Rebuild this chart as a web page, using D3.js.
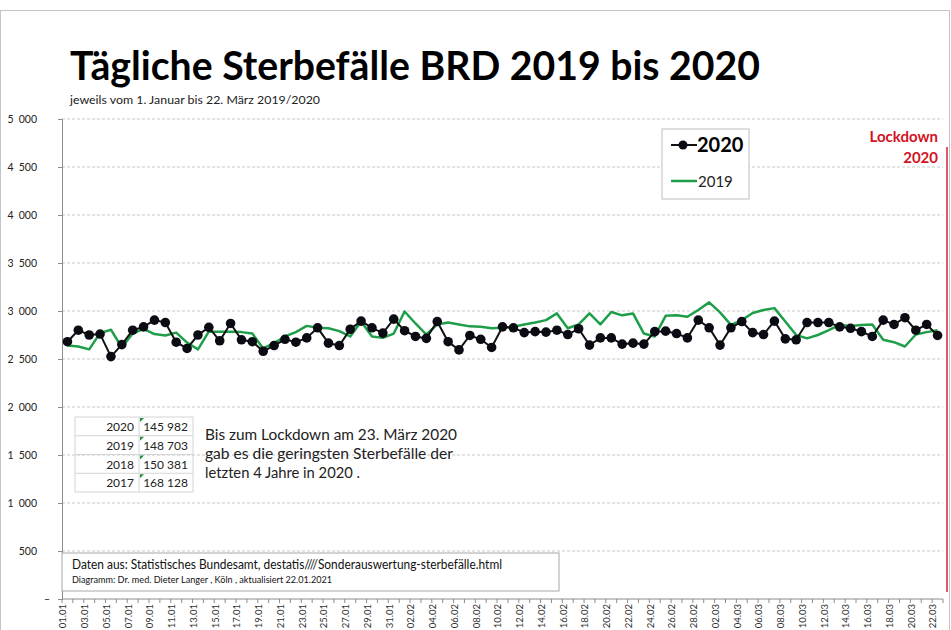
<!DOCTYPE html>
<html>
<head>
<meta charset="utf-8">
<script src="https://cdnjs.cloudflare.com/ajax/libs/d3/7.8.5/d3.min.js"></script>
<style>
  body { margin: 0; background: #fff; }
  svg { display: block; font-family: Lato, "Open Sans", sans-serif; }
</style>
</head>
<body>
<svg id="chart" width="951" height="630"></svg>
<script>
// categories: 1 Jan .. 22 Mar
var days = ["01.01","02.01","03.01","04.01","05.01","06.01","07.01","08.01","09.01","10.01",
  "11.01","12.01","13.01","14.01","15.01","16.01","17.01","18.01","19.01","20.01",
  "21.01","22.01","23.01","24.01","25.01","26.01","27.01","28.01","29.01","30.01","31.01",
  "01.02","02.02","03.02","04.02","05.02","06.02","07.02","08.02","09.02","10.02",
  "11.02","12.02","13.02","14.02","15.02","16.02","17.02","18.02","19.02","20.02",
  "21.02","22.02","23.02","24.02","25.02","26.02","27.02","28.02",
  "01.03","02.03","03.03","04.03","05.03","06.03","07.03","08.03","09.03","10.03",
  "11.03","12.03","13.03","14.03","15.03","16.03","17.03","18.03","19.03","20.03","21.03","22.03"]
// day labels shown under the axis (every 2nd)
var dayLabels = ["01.01","03.01","05.01","07.01","09.01","11.01","13.01","15.01","17.01","19.01",
  "21.01","23.01","25.01","27.01","29.01","31.01","02.02","04.02","06.02","08.02","10.02",
  "12.02","14.02","16.02","18.02","20.02","22.02","24.02","26.02","28.02","02.03","04.03",
  "06.03","08.03","10.03","12.03","14.03","16.03","18.03","20.03","22.03"]

var deaths2020 = [2680,2800,2750,2760,2525,2650,2800,2835,2905,2880,
  2675,2610,2750,2830,2690,2870,2700,2680,2580,2640,
  2705,2675,2720,2825,2665,2640,2810,2895,2825,2770,2915,
  2795,2735,2715,2890,2680,2595,2745,2705,2620,2835,
  2825,2775,2785,2780,2800,2755,2815,2645,2720,2720,
  2655,2665,2655,2785,2790,2765,2720,2905,
  2825,2645,2825,2890,2775,2755,2895,2710,2700,2880,
  2880,2880,2835,2820,2785,2735,2905,2860,2930,2800,2860,2745]

var deaths2019 = [2640,2630,2600,2770,2805,2620,2765,2815,2760,2745,
  2775,2670,2600,2785,2785,2785,2780,2765,2610,2665,
  2735,2780,2845,2825,2820,2790,2735,2890,2735,2720,2765,
  2995,2870,2755,2860,2880,2860,2840,2835,2820,2825,
  2835,2860,2880,2905,2975,2820,2860,2975,2860,2990,
  2955,2975,2765,2735,2950,2955,2940,3010,
  3090,2985,2855,2905,2980,3010,3030,2890,2750,2715,
  2750,2800,2855,2845,2855,2860,2700,2675,2630,2755,2780,2800]

var yTicks = [0,500,1000,1500,2000,2500,3000,3500,4000,4500,5000]

var tableYears = ["2020","2019","2018","2017"]
var tableTotals = ["145 982","148 703","150 381","168 128"]

var noteLines = ["Bis zum Lockdown am 23. März 2020",
  "gab es die geringsten Sterbefälle der",
  "letzten 4 Jahre in 2020 ."]

var svg = d3.select('#chart')

// frame
svg.append('rect')
  .attr('x', 0.5).attr('y', 10.5).attr('width', 949).attr('height', 640)
  .style('fill', 'none').style('stroke', '#c4c4c4')

svg.append('text')
  .attr('x', 70).attr('y', 80)
  .attr('textLength', 690).attr('lengthAdjust', 'spacingAndGlyphs')
  .style('font-size', '40px').style('font-weight', 'bold').style('fill', '#000')
  .text('Tägliche Sterbefälle BRD 2019 bis 2020')

svg.append('text')
  .attr('x', 70).attr('y', 104)
  .attr('textLength', 250).attr('lengthAdjust', 'spacingAndGlyphs')
  .style('font-size', '10.5px').style('fill', '#222')
  .text('jeweils vom 1. Januar bis 22. März 2019/2020')

var x = d3.scaleBand().domain(days).range([62, 943])
var y = d3.scaleLinear().domain([0, 5000]).range([599, 119])
var bw = x.bandwidth()
var fmt = function(d){ return d === 0 ? '–' : d3.format(',')(d).replace(',', '\u2002') }

// gridlines
svg.append('g').selectAll('line')
  .data(yTicks.filter(function(d){ return d > 0 }))
  .enter().append('line')
  .attr('x1', 62).attr('x2', 943)
  .attr('y1', function(d){ return y(d) }).attr('y2', function(d){ return y(d) })
  .style('stroke', '#c8c8c8').style('stroke-dasharray', '3,2')

// y axis
var ya = svg.append('g')
  .attr('transform', 'translate(62,0)')
  .call(d3.axisLeft(y).tickValues(yTicks).tickSize(4).tickPadding(21).tickFormat(fmt))
ya.select('.domain').style('stroke', '#8c8c8c')
ya.selectAll('.tick line').style('stroke', '#8c8c8c')
ya.selectAll('.tick text').style('font-size', '10.5px').style('fill', '#222')
  .style('font-family', 'Lato, sans-serif')
ya.selectAll('.tick text').filter(function(d){ return d === 0 }).attr('x', -12)

// x axis
var xa = svg.append('g')
xa.append('line')
  .attr('x1', 62).attr('x2', 943).attr('y1', y(0)).attr('y2', y(0))
  .style('stroke', '#8c8c8c')
xa.selectAll('.xt')
  .data(days.concat(['end']))
  .enter().append('line')
  .attr('class', 'xt')
  .attr('x1', function(d){ return d === 'end' ? 943 : x(d) })
  .attr('x2', function(d){ return d === 'end' ? 943 : x(d) })
  .attr('y1', y(0)).attr('y2', y(0) + 4)
  .style('stroke', '#8c8c8c')
xa.selectAll('.xl')
  .data(dayLabels)
  .enter().append('text')
  .attr('class', 'xl')
  .attr('transform', function(d){ return 'translate(' + (x(d) + 1) + ',' + (y(0) + 5) + ') rotate(-90)' })
  .attr('dy', '0.35em')
  .style('text-anchor', 'end').style('font-size', '9.5px').style('fill', '#333')
  .text(function(d){ return d })

// lockdown marker
svg.append('line')
  .attr('x1', 947).attr('x2', 947).attr('y1', 147).attr('y2', 592)
  .style('stroke', '#e35a66').style('stroke-width', 2)
svg.append('text').attr('x', 938).attr('y', 142)
  .style('text-anchor', 'end').style('font-size', '15px').style('font-weight', 'bold').style('fill', '#d3121f')
  .text('Lockdown')
svg.append('text').attr('x', 938).attr('y', 163)
  .style('text-anchor', 'end').style('font-size', '15px').style('font-weight', 'bold').style('fill', '#d3121f')
  .text('2020')

// series
var line2019 = d3.line()
  .x(function(d, i){ return x(days[i]) + bw / 2 })
  .y(function(d){ return y(d) })
svg.append('path')
  .attr('d', line2019(deaths2019))
  .style('fill', 'none').style('stroke', '#1f9e4a').style('stroke-width', 2.5)
  .style('stroke-linejoin', 'round')

svg.append('path')
  .attr('d', line2019(deaths2020))
  .style('fill', 'none').style('stroke', '#111').style('stroke-width', 2)
svg.selectAll('.dot')
  .data(deaths2020)
  .enter().append('circle')
  .attr('class', 'dot')
  .attr('r', 4.8)
  .attr('cx', function(d, i){ return x(days[i]) + bw / 2 })
  .attr('cy', function(d){ return y(d) })
  .style('fill', '#0b0b14')

// legend
var lg = svg.append('g')
lg.append('rect').attr('x', 662).attr('y', 129).attr('width', 87).attr('height', 70)
  .style('fill', '#fff').style('stroke', '#bdbdbd')
lg.append('line').attr('x1', 671).attr('x2', 697).attr('y1', 145).attr('y2', 145)
  .style('stroke', '#111').style('stroke-width', 2)
lg.append('circle').attr('cx', 683).attr('cy', 145).attr('r', 4.5).style('fill', '#0b0b14')
lg.append('text').attr('x', 697).attr('y', 152)
  .style('font-size', '20px').style('font-weight', 'bold').style('fill', '#000').text('2020')
lg.append('line').attr('x1', 671).attr('x2', 697).attr('y1', 181).attr('y2', 181)
  .style('stroke', '#1f9e4a').style('stroke-width', 2.5)
lg.append('text').attr('x', 698).attr('y', 187)
  .style('font-size', '15px').style('fill', '#222').text('2019')

// totals table
var tb = svg.append('g')
var rowH = 18.75, tableTop = 417
tb.selectAll('.hl')
  .data(d3.range(tableYears.length + 1))
  .enter().append('line')
  .attr('class', 'hl')
  .attr('x1', 75).attr('x2', 193)
  .attr('y1', function(d){ return tableTop + d * rowH }).attr('y2', function(d){ return tableTop + d * rowH })
  .style('stroke', '#d4d4d4')
tb.selectAll('.vl')
  .data([75, 139, 193])
  .enter().append('line')
  .attr('class', 'vl')
  .attr('x1', function(d){ return d }).attr('x2', function(d){ return d })
  .attr('y1', tableTop).attr('y2', tableTop + tableYears.length * rowH)
  .style('stroke', '#d4d4d4')
tb.selectAll('.yr')
  .data(tableYears)
  .enter().append('text')
  .attr('class', 'yr')
  .attr('x', 134).attr('y', function(d, i){ return tableTop + i * rowH + 14 })
  .style('text-anchor', 'end').style('font-size', '12px').style('fill', '#222')
  .text(function(d){ return d })
tb.selectAll('.tot')
  .data(tableTotals)
  .enter().append('text')
  .attr('class', 'tot')
  .attr('x', 188).attr('y', function(d, i){ return tableTop + i * rowH + 14 })
  .style('text-anchor', 'end').style('font-size', '12px').style('fill', '#222')
  .text(function(d){ return d })
tb.selectAll('.tri')
  .data(tableTotals)
  .enter().append('path')
  .attr('class', 'tri')
  .attr('d', function(d, i){ var t = tableTop + i * rowH + 1; return 'M140,' + t + 'L144,' + t + 'L140,' + (t + 4) + 'Z' })
  .style('fill', '#1e8c3a')

svg.selectAll('.note')
  .data(noteLines)
  .enter().append('text')
  .attr('class', 'note')
  .attr('x', 205).attr('y', function(d, i){ return 440 + i * 19.2 })
  .attr('textLength', function(d, i){ return [252, 248, 155][i] })
  .attr('lengthAdjust', 'spacingAndGlyphs')
  .style('font-size', '15.5px').style('fill', '#222')
  .text(function(d){ return d })

// source box
svg.append('rect').attr('x', 62).attr('y', 553).attr('width', 497).attr('height', 38)
  .style('fill', '#fff').style('stroke', '#a8a8a8')
svg.append('text').attr('x', 72).attr('y', 569)
  .attr('textLength', 430).attr('lengthAdjust', 'spacingAndGlyphs')
  .style('font-size', '12.5px').style('fill', '#111')
  .text('Daten aus:  Statistisches Bundesamt, destatis////Sonderauswertung-sterbefälle.html')
svg.append('text').attr('x', 72).attr('y', 583)
  .attr('textLength', 260).attr('lengthAdjust', 'spacingAndGlyphs')
  .style('font-size', '8.5px').style('fill', '#111')
  .text('Diagramm: Dr. med. Dieter Langer , Köln , aktualisiert  22.01.2021')
</script>
</body>
</html>
